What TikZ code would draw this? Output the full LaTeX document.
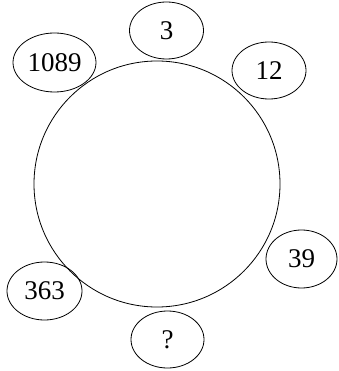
\documentclass[tikz,border=0pt]{standalone}
\usepackage{fontspec}
\setmainfont{Liberation Serif}
\usetikzlibrary{shapes.geometric}

\begin{document}
\begin{tikzpicture}[x=1pt, y=-1pt, line width=0.8pt,
    every node/.style={font=\fontsize{27}{30}\selectfont},
    numbox/.style={draw, ellipse, inner sep=0pt, minimum width=74pt, minimum height=57pt}]
    \useasboundingbox (0,0) rectangle (338,371);
    % big circle
    \node[draw, circle, minimum size=246pt, inner sep=0pt] (ring) at (157,184) {};
    % numbers round the circle
    \node[numbox] (top) at (166.5,30.5) {3};
    \node[numbox, minimum width=83pt, minimum height=59pt] (topleft) at (54.5,62.5) {1089};
    \node[numbox] (topright) at (269,70.5) {12};
    \node[numbox, minimum width=71pt, minimum height=58pt] (right) at (301.5,259) {39};
    \node[numbox, minimum width=75pt, minimum height=58pt] (left) at (44.5,291) {363};
    \node[numbox, minimum width=73pt] (bottom) at (167.5,339.5) {?};
\end{tikzpicture}
\end{document}
